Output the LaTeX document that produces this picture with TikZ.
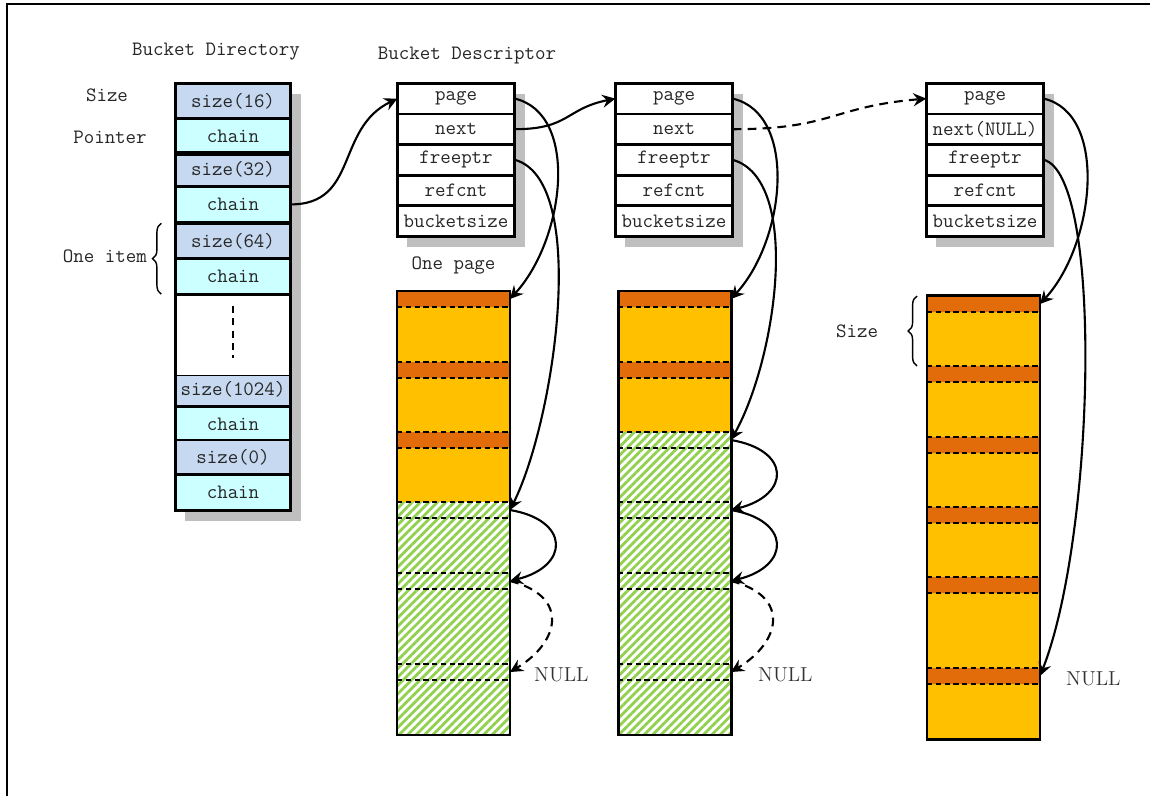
\documentclass[tikz,border=0pt]{standalone}
\usepackage{fontspec}
\usetikzlibrary{positioning, arrows.meta, patterns.meta, decorations.pathreplacing,
  calc, backgrounds}
\definecolor{sizeblue}{HTML}{C6D9F1}
\definecolor{chaincyan}{HTML}{CCFFFF}
\definecolor{hdrorange}{HTML}{E26C0A}
\definecolor{bodyyellow}{HTML}{FFC000}
\definecolor{freegreen}{HTML}{92D050}
\newcommand{\diagfont}{\ttfamily\fontsize{11.6}{14}\selectfont}
\tikzset{
  % --- bucket directory cells ---
  dircell/.style={draw, line width=0.8pt, minimum width=2.28cm, minimum height=0.68cm,
    inner sep=0pt, font=\diagfont, text=black!85},
  sizecell/.style={dircell, fill=sizeblue},
  chaincell/.style={dircell, fill=chaincyan},
  gapcell/.style={dircell, fill=white, minimum height=1.62cm},
  % --- bucket descriptor fields ---
  fieldcell/.style={draw, line width=0.8pt, fill=white, minimum width=2.32cm,
    minimum height=0.584cm, inner sep=0pt, font=\diagfont, text=black!85},
  boxframe/.style={line width=1.8pt},
  boxshadow/.style={fill=black!25},
  % --- pages and their blocks ---
  pagebox/.style={draw, line width=1.3pt, minimum width=2.26cm, minimum height=8.88cm,
    inner sep=0pt},
  hdrline/.style={line width=0.8pt, dash pattern=on 3pt off 2pt},
  usedblk/.pic={
    \fill[bodyyellow] (0,0) rectangle (113,#1);
    \fill[hdrorange, rounded corners=1pt] (0,0) rectangle (113,16);
    \draw[hdrline] (0,0) -- (113,0) (0,16) -- (113,16);
    \coordinate (-hook) at (113,8);
  },
  freeblk/.pic={
    \fill[pattern={Lines[angle=45, distance=3.4pt, line width=1.6pt]},
      pattern color=freegreen] (0,0) rectangle (113,#1);
    \draw[hdrline] (0,0) -- (113,0) (0,16) -- (113,16);
    \coordinate (-hook) at (113,8);
  },
  % --- pointers ---
  ptr/.style={-{Stealth[length=2.6mm, width=2.6mm, inset=0.9mm]}, line width=1.2pt},
  nullptr/.style={ptr, dash pattern=on 5pt off 3.5pt},
  lbl/.style={font=\diagfont, text=black!85},
  nulllbl/.style={font=\rmfamily\fontsize{11.5}{13}\selectfont, text=black!80, anchor=west},
  sidebrace/.style={decorate, decoration={brace, amplitude=5pt}, line width=0.8pt},
}

\begin{document}
\begin{tikzpicture}[x=0.02cm, y=-0.02cm]
  \useasboundingbox (0,0) rectangle (1150,796);
  \draw[line width=1.6pt] (7,796) -- (7,4) -- (1150,4);

  % bucket directory
  \foreach \n/\y in {16/101, 32/169, 64/241, 1024/389, 0/457}{
    \node[sizecell] (s\n) at (233,\y) {size(\n)};
    \node[chaincell, below=0pt of s\n] (c\n) {chain};
  }
  \node[gapcell, below=0pt of c64] (gap) {};
  \draw[line width=1pt, dash pattern=on 4pt off 3pt] ($(gap.north)+(0,12)$) -- ($(gap.south)+(0,-18)$);
  \draw[boxframe] (s16.north west) rectangle (c0.south east);
  \draw[boxframe] (c16.south west) -- (c16.south east);
  \draw[boxframe] (c32.south west) -- (c32.south east);
  \begin{scope}[on background layer]
    \fill[boxshadow] ($(s16.north west)+(10,11)$) rectangle ($(c0.south east)+(10,11)$);
  \end{scope}
  \node[lbl] (dirtitle) at (216,52) {Bucket Directory};
  \node[lbl] (sizelbl) at (107,95) {Size};
  \node[lbl] (ptrlbl) at (110,137) {Pointer};
  \draw[sidebrace] ($(c64.south west)+(-14,0)$) -- ($(s64.north west)+(-14,0)$);
  \node[lbl, anchor=east] (itemlbl) at (153,256) {One item};

  % bucket descriptors
  \foreach \b/\x/\nx in {1/456/next, 2/674/next, 3/985/next(NULL)}{
    \node[fieldcell] (b\b-page) at (\x,98.6) {page};
    \node[fieldcell, below=0pt of b\b-page] (b\b-next) {\nx};
    \node[fieldcell, below=0pt of b\b-next] (b\b-free) {freeptr};
    \node[fieldcell, below=0pt of b\b-free] (b\b-ref) {refcnt};
    \node[fieldcell, below=0pt of b\b-ref] (b\b-bsize) {bucketsize};
    \draw[boxframe] (b\b-page.north west) rectangle (b\b-bsize.south east);
    \begin{scope}[on background layer]
      \fill[boxshadow] ($(b\b-page.north west)+(10,11)$) rectangle ($(b\b-bsize.south east)+(10,11)$);
    \end{scope}
  }
  \node[lbl] (desctitle) at (467,56) {Bucket Descriptor};

  % pages
  \foreach \k/\y/\h in {1/291/71, 2/362/70, 3/432/70}
    \pic (p1b\k) at (397,\y) {usedblk=\h};
  \foreach \k/\y/\h in {4/502/71, 5/573/91, 6/664/71}
    \pic (p1b\k) at (397,\y) {freeblk=\h};
  \foreach \k/\y/\h in {1/291/71, 2/362/70}
    \pic (p2b\k) at (618,\y) {usedblk=\h};
  \foreach \k/\y/\h in {3/432/70, 4/502/71, 5/573/91, 6/664/71}
    \pic (p2b\k) at (618,\y) {freeblk=\h};
  \foreach \k/\y/\h in {1/296/70, 2/366/71, 3/437/70, 4/507/70, 5/577/91, 6/668/71}
    \pic (p3b\k) at (927,\y) {usedblk=\h};
  \node[pagebox] (p1) at (453.5,513) {};
  \node[pagebox] (p2) at (675,513) {};
  \node[pagebox] (p3) at (983.5,517.5) {};
  \node[lbl, above=0.2cm of p1] (pagelbl) {One page};
  \draw[sidebrace] ($(p3b2-hook)+(-123,-8)$) -- ($(p3b1-hook)+(-123,-8)$);
  \node[lbl] (blksize) at (857,331) {Size};

  % pointers
  \draw[ptr] (c32.east) .. controls +(68,0) and +(-62,30) .. (b1-page.west);
  \draw[ptr] (b1-next.east) .. controls +(55,0) and +(-50,10) .. (b2-page.west);
  \draw[nullptr] (b2-next.east) .. controls +(100,0) and +(-95,8) .. (b3-page.west);

  \draw[ptr] (b1-page.east) .. controls +(65,15) and +(55,-60) .. (p1b1-hook);
  \draw[ptr] (b1-free.east) .. controls +(75,20) and +(45,-90) .. (p1b4-hook);
  \draw[ptr] (p1b4-hook) .. controls +(60,10) and +(60,-15) .. (p1b5-hook);
  \draw[nullptr] (p1b5-hook) .. controls +(60,15) and +(50,-30) .. (p1b6-hook);
  \node[nulllbl] (null1) at (528,675) {NULL};

  \draw[ptr] (b2-page.east) .. controls +(65,15) and +(55,-60) .. (p2b1-hook);
  \draw[ptr] (b2-free.east) .. controls +(70,20) and +(45,-80) .. (p2b3-hook);
  \draw[ptr] (p2b3-hook) .. controls +(60,10) and +(60,-15) .. (p2b4-hook);
  \draw[ptr] (p2b4-hook) .. controls +(60,10) and +(60,-15) .. (p2b5-hook);
  \draw[nullptr] (p2b5-hook) .. controls +(60,15) and +(50,-30) .. (p2b6-hook);
  \node[nulllbl] (null2) at (752,675) {NULL};

  \draw[ptr] (b3-page.east) .. controls +(65,15) and +(55,-60) .. (p3b1-hook);
  \draw[ptr] (b3-free.east) .. controls +(60,15) and +(55,-140) .. (p3b6-hook);
  \node[nulllbl] (null3) at (1060,679) {NULL};
\end{tikzpicture}
\end{document}
